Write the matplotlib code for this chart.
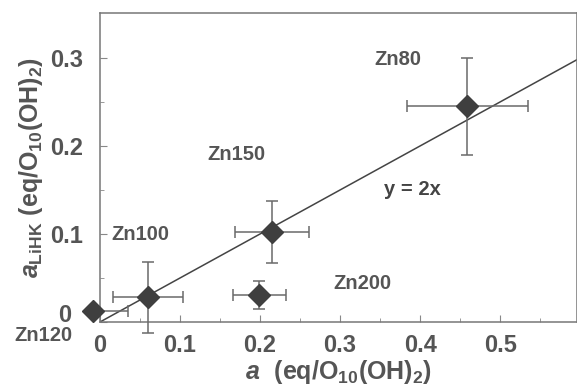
import numpy as np
import matplotlib
matplotlib.use("Agg")
import matplotlib.pyplot as plt
import matplotlib.transforms as mtransforms

# ── Data ──────────────────────────────────────────────────────
samples = ["Zn120", "Zn100", "Zn200", "Zn150", "Zn80"]
a_x     = [-0.009, 0.060, 0.199, 0.215, 0.459]
a_y     = [0.013, 0.028, 0.031, 0.102, 0.245]
x_err_lo = [0.0,   0.044, 0.033, 0.046, 0.076]
x_err_hi = [0.044, 0.044, 0.033, 0.046, 0.076]
y_err    = [0.0,   0.040, 0.016, 0.035, 0.055]

fit_x = [0.0, 0.6]
fit_slope = 0.5
fit_label = "y = 2x"

label_pos = {
    "Zn80":  (0.372, 0.298),
    "Zn150": (0.171, 0.190),
    "Zn100": (0.050, 0.099),
    "Zn200": (0.328, 0.044),
}

TXT = "#555555"
plt.rcParams["font.family"] = ["Liberation Sans", "DejaVu Sans"]
plt.rcParams["font.weight"] = "bold"
plt.rcParams["mathtext.fontset"] = "custom"
plt.rcParams["mathtext.rm"] = "Liberation Sans:bold"
plt.rcParams["mathtext.bf"] = "Liberation Sans:bold"
plt.rcParams["mathtext.it"] = "Liberation Sans:bold:italic"

fig = plt.figure(figsize=(5.77, 3.89), dpi=100)
ax = fig.add_axes([100/577, 67/389, 477/577, 309/389])

ax.plot(fit_x, [fit_slope * v for v in fit_x], color="#444444", lw=1.1, zorder=2)
ax.errorbar(a_x, a_y, xerr=[x_err_lo, x_err_hi], yerr=y_err, fmt="D",
            ms=11, mfc="#3f3f3f", mec="#3f3f3f", ecolor="#6a6a6a",
            elinewidth=1.1, capsize=4, capthick=1.1, clip_on=False, zorder=3)

for name, (px, py) in label_pos.items():
    ax.text(px, py, name, ha="center", va="center", fontsize=14.5,
            fontweight="bold", color=TXT)
ax.text(0.39, 0.15, fit_label, ha="center", va="center", fontsize=14.5,
        fontweight="bold", color="#444444")
ax.text(-0.071, -0.015, "Zn120", ha="center", va="center", fontsize=14.5,
        fontweight="bold", color=TXT, clip_on=False)

ax.set_xlim(0, 0.596)
ax.set_ylim(0, 0.351)
ax.set_xticks([0, 0.1, 0.2, 0.3, 0.4, 0.5])
ax.set_xticklabels(["0", "0.1", "0.2", "0.3", "0.4", "0.5"])
ax.set_yticks([0, 0.1, 0.2, 0.3])
ax.set_yticklabels(["0", "0.1", "0.2", "0.3"])
ax.set_xticks(np.arange(0.05, 0.6, 0.1), minor=True)
ax.set_yticks(np.arange(0.05, 0.35, 0.1), minor=True)
ax.tick_params(which="both", direction="in", length=5, color="#888888",
               labelsize=17, labelcolor=TXT)
ax.tick_params(axis="x", pad=9)
ax.tick_params(axis="y", pad=12)
ax.tick_params(which="minor", length=3)

# the "0" on the y axis sits up and left of the origin in the original
fig.canvas.draw()
ylab0 = ax.get_yticklabels()[0]
ylab0.set_transform(ylab0.get_transform() +
                    mtransforms.ScaledTranslation(-12/100, 9/100, fig.dpi_scale_trans))

for s in ax.spines.values():
    s.set_color("#777777")
    s.set_linewidth(1.1)

ax.set_xlabel(r"$\mathit{a}\ \ \mathrm{(eq/O_{10}(OH)_2)}$", fontsize=18,
              color=TXT, labelpad=0)
ax.set_ylabel(r"$\mathit{a}_{\mathrm{LiHK}}\ \mathrm{(eq/O_{10}(OH)_2)}$",
              fontsize=18, color=TXT, labelpad=4)

fig.savefig("out.png", dpi=100)
